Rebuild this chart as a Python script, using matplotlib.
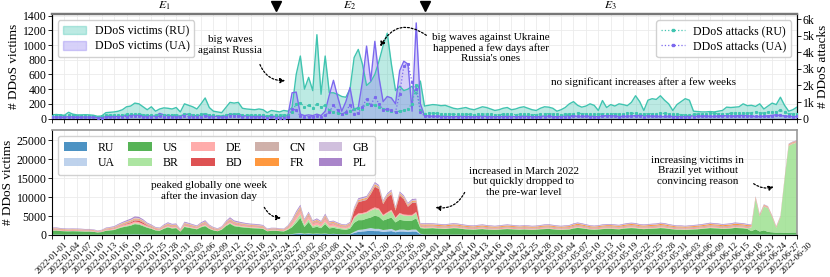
import numpy as np
import pandas as pd
import matplotlib
matplotlib.use("Agg")
import matplotlib.pyplot as plt
import matplotlib.dates as mdates
from matplotlib.ticker import FuncFormatter
from matplotlib.patches import Patch
from matplotlib.lines import Line2D

plt.rcParams['font.family'] = ['Liberation Serif', 'DejaVu Serif']
plt.rcParams['mathtext.fontset'] = 'stix'

days = pd.date_range('2022-01-01', '2022-06-30', freq='D')
era_marks = ['2022-02-24', '2022-04-01']
era_labels = ['$E_1$', '$E_2$', '$E_3$']
era_label_dates = ['2022-01-28', '2022-03-14', '2022-05-16']

# ---------------- top panel data ----------------
ru_victims = ([50,55,50,45,85,60,50,50,52,50, 45,30,35,80,85,90,100,120,160,170,
               210,200,160,120,160,100,130,145,140,130, 150,90,200,180,160,130,200,280,150,100,
               90,80,150,220,210,220,140,130,125,120, 130,120,80,110]
              + [100,90,110,100,150,600,850,400,560,380, 1140,330,850,350,350,330,300,290,400,830,
                 940,740,450,500,600,780,990,1160,740,380, 440,380,400,440,330,510]
              + [170,180,190,185,175,180,160,140,130,140, 150,130,120,140,160,150,130,110,120,140,
                 150,120,130,150,160,140,120,110,140,160, 155,140,100,120,150,200,230,180,155,170,
                 200,180,110,245,150,190,170,200,190,175, 220,310,230,110,250,270,260,310,250,200,
                 110,190,230,270,250,100,95,90,90,95, 90,100,110,155,150,155,160,200,175,180,
                 165,200,130,170,210,190,290,180,100,120,155])
ua_victims = ([20,22,20,18,25,22,20,20,22,20, 18,15,15,25,28,30,30,35,40,45,
               50,45,40,35,40,30,70,50,40,35, 40,30,60,55,45,35,45,60,40,30,
               30,25,40,60,55,60,40,35,35,30, 35,30,25,30]
              + [30,25,30,40,350,360,60,40,50,40, 60,40,100,320,520,300,100,230,420,120,
                 150,500,985,510,1050,560,230,300,280,200, 650,780,740,100,1300,200]
              + [40,35,30,30,35,30,28,25,30,32, 30,28,25,30,35,30,28,25,28,30,
                 32,28,25,30,35,30,28,25,30,35, 32,30,25,30,35,40,35,30,28,30,
                 35,30,25,35,40,38,35,30,28,30, 35,40,45,40,35,30,28,25,25,28,
                 30,30,28,35,38,35,30,32,35,30, 28,35,40,38,35,30,40,45,38,30,
                 25,28,30,35,45,50,40,35,30,30, 28])
ru_attacks = ([180,200,190,170,220,200,180,170,180,175, 160,120,130,190,200,210,220,230,260,270,
               280,270,240,210,230,190,220,240,230,220, 240,170,280,260,240,210,260,300,230,190,
               180,170,230,280,270,280,220,210,200,200, 210,200,160,190]
              + [220,200,230,220,400,900,950,700,800,650, 900,700,800,500,400,350,300,350,450,600,
                 650,600,900,850,800,700,600,500,450,400, 450,500,600,900,2000,500]
              + [300,320,330,310,300,290,280,260,250,260, 270,250,240,260,280,270,250,230,240,260,
                 270,250,240,260,270,250,230,240,260,280, 290,270,250,240,260,270,300,320,300,280,
                 260,250,260,290,300,300,290,270,290,320, 330,310,290,280,290,300,300,320,310,290,
                 270,250,240,230,240,250,270,280,300,320, 310,300,290,300,320,350,340,330,320,360,
                 380,350,330,380,400,420,500,380,300,280,300])
ua_attacks = ([70,80,75,70,90,80,75,70,75,70, 65,50,55,80,85,90,95,100,120,130,
               140,130,110,90,100,80,150,110,95,90, 100,70,130,120,100,85,110,140,100,80,
               75,70,100,140,130,140,100,90,90,85, 90,80,60,80]
              + [60,50,60,80,600,500,150,100,120,100, 150,100,200,400,800,500,250,400,850,300,
                 350,700,1200,800,1300,900,500,600,500,400, 1500,3200,3300,2200,1800,400]
              + [150,140,130,130,120,120,120,110,110,120, 120,110,100,110,120,120,110,100,110,120,
                 120,110,100,110,120,110,100,100,110,120, 130,120,110,100,110,120,140,150,140,130,
                 120,110,120,130,140,140,130,120,130,150, 160,150,130,120,130,140,140,150,140,130,
                 120,110,100,100,110,120,130,140,150,160, 150,140,130,140,150,160,150,140,130,150,
                 170,160,150,160,180,200,220,160,130,120,130])

# ---------------- bottom panel data (per country) ----------------
countries = ['RU', 'UA', 'US', 'BR', 'DE', 'BD', 'CN', 'FR', 'GB', 'PL']
RU = ([50,55,50,45,60,50,45,45,50,45, 40,30,35,50,55,60,60,70,80,90,
       100,90,80,70,70,60,60,70,70,60, 60,40,70,60,60,55,70,80,60,50,
       45,50,70,90,80,80,70,60,60,55, 55,50,40,50]
      + [60,60,70,100,150,250,350,200,300,200, 250,200,250,150,200,150,120,100,150,500,
         800,900,1000,1100,1000,1000,800,900,1000,700, 900,900,800,900,900,200]
      + [60,55,50,50,55,50,50,45,50,55, 50,45,45,50,55,50,45,45,50,50,
         55,50,45,45,50,50,45,45,50,55, 55,50,45,45,50,50,60,65,60,55,
         50,45,50,55,60,60,55,50,55,60, 65,60,55,50,55,55,60,65,60,55,
         50,45,45,45,50,50,55,55,60,65, 60,60,55,55,60,65,60,60,55,60,
         55,60,65,60,50,45,45,40,45,45,45])
UA = ([25,25,25,20,25,25,20,20,25,20, 20,15,15,25,25,30,30,35,40,40,
       45,40,35,30,30,25,30,35,30,30, 30,20,35,30,30,25,30,40,30,25,
       25,25,35,45,40,40,35,30,30,30, 30,25,20,25]
      + [30,30,40,50,80,120,150,100,120,80, 100,80,100,60,80,60,50,50,80,300,
         500,500,600,700,600,600,500,500,600,400, 500,500,400,500,500,100]
      + [35,30,30,30,30,30,30,25,30,30, 30,25,25,30,30,30,25,25,30,30,
         30,30,25,25,30,30,25,25,30,30, 30,30,25,25,30,30,35,35,35,30,
         30,25,30,30,35,35,30,30,30,35, 35,35,30,30,30,30,35,35,35,30,
         30,25,25,25,30,30,30,30,35,35, 35,35,30,30,35,35,35,35,30,35,
         30,35,35,35,30,25,25,25,25,25,25])
US = ([1000,1050,950,900,850,900,880,850,800,820, 750,600,700,1000,1100,1200,1600,1900,2100,2300,
       2700,2600,2200,1800,1500,1100,1000,1500,1900,1600, 1700,800,2000,1800,1600,1400,1900,2200,1500,1100,
       900,1300,2200,2800,2200,2000,1900,1800,1700,1650, 1600,1500,900,1000]
      + [1000,900,800,1200,1800,2800,4000,1800,3000,1600, 1800,1500,2500,1500,1600,1400,1300,1200,1400,2400,
         2600,2500,2700,2800,3500,3200,2500,2800,3000,2200, 2600,2400,2500,2400,3000,1500]
      + [1600,1650,1700,1600,1550,1500,1600,1700,1650,1500, 1400,1350,1300,1400,1450,1350,1300,1250,1300,1400,
         1450,1400,1350,1300,1350,1300,1250,1300,1400,1450, 1500,1400,1300,1250,1300,1350,1600,1750,1650,1500,
         1350,1300,1350,1450,1500,1500,1450,1400,1550,1650, 1700,1650,1500,1450,1500,1550,1600,1700,1650,1500,
         1400,1300,1300,1250,1300,1350,1400,1500,1600,1700, 1650,1600,1500,1550,1600,1750,1700,1650,1500,900,
         1400,800,1100,700,600,500,550,500,500,550,550])
BR = ([100,100,90,90,90,90,90,85,80,80, 80,60,70,100,110,120,150,180,200,220,
       250,240,200,170,150,110,100,150,180,160, 160,80,190,170,150,130,180,220,150,110,
       90,120,200,250,210,200,180,170,160,160, 150,140,90,100]
      + [100,100,100,200,400,800,1000,500,700,400, 500,400,600,400,400,350,300,300,400,1200,
         1500,1600,1500,1800,1800,1800,1200,1500,1700,1000, 1500,1300,1300,1200,1400,300]
      + [150,140,130,130,125,120,125,130,125,120, 115,110,110,115,120,115,110,105,110,115,
         120,115,110,105,110,110,105,105,110,120, 120,115,110,105,110,115,130,140,130,120,
         110,105,110,120,125,125,120,115,125,135, 140,135,125,120,125,130,130,140,135,125,
         115,110,110,105,110,115,120,125,130,140, 135,130,125,130,135,140,150,160,150,1000,
         8000,4000,6300,6300,4000,1300,4000,14000,23000,23500,23800])
DE = ([200,200,190,180,180,180,170,170,160,160, 150,120,140,200,220,250,300,350,400,420,
       450,420,380,300,250,200,180,250,300,280, 280,150,320,300,260,230,300,350,250,200,
       170,200,320,400,350,330,300,280,270,260, 250,240,150,170]
      + [170,160,160,300,700,900,1000,600,800,600, 700,600,900,600,600,500,400,400,500,400,
         300,300,300,400,400,350,300,300,350,300, 300,300,300,300,300,200]
      + [250,250,240,240,230,230,240,250,240,230, 220,210,210,220,230,220,210,200,210,220,
         230,220,210,200,210,210,200,200,210,230, 230,220,210,200,210,220,250,270,250,230,
         210,200,210,230,240,240,230,220,240,260, 270,260,240,230,240,250,250,270,260,240,
         220,210,210,200,210,220,230,240,250,270, 260,250,240,250,260,270,260,250,240,150,
         150,120,120,100,100,90,90,100,120,120,120])
BD = ([60,60,60,50,50,50,50,50,50,50, 50,40,40,60,60,70,80,100,150,250,
       300,400,350,150,100,80,70,90,100,90, 90,60,100,90,80,70,90,100,80,60,
       60,60,90,120,100,100,90,80,80,80, 80,70,50,60]
      + [60,60,60,80,100,120,150,100,120,100, 100,100,150,100,100,90,80,80,100,1500,
         2950,3150,3150,3950,5450,5200,2850,3950,4100,1850, 4650,4050,2150,3150,2450,100]
      + [80,70,60,60,60,60,60,60,60,60, 55,55,55,55,60,55,55,50,55,55,
         60,55,55,50,55,55,50,50,55,60, 60,55,55,50,55,55,65,70,65,60,
         55,50,55,60,65,65,60,55,60,65, 70,65,60,55,60,65,65,70,65,60,
         55,55,55,50,55,55,60,60,65,70, 65,65,60,60,65,70,65,65,60,50,
         50,40,40,40,40,30,30,40,40,40,40])
CN = ([150,150,140,140,130,130,130,130,120,120, 120,100,110,150,160,170,200,230,260,280,
       300,290,270,220,200,160,150,200,230,210, 210,130,230,220,200,180,230,260,200,160,
       140,160,230,280,250,240,220,210,200,200, 190,180,130,150]
      + [150,150,150,200,300,400,450,300,350,300, 300,250,350,250,250,250,200,200,250,300,
         300,300,300,350,350,300,300,300,350,300, 300,300,300,300,300,200]
      + [300,300,290,290,280,280,290,300,290,280, 270,260,260,270,280,270,260,250,260,270,
         280,270,260,250,260,260,250,250,260,280, 280,270,260,250,260,270,300,320,300,280,
         260,250,260,280,290,290,280,270,290,310, 320,310,290,280,290,300,300,320,310,290,
         270,260,260,250,260,270,280,290,300,320, 310,300,290,300,310,320,310,300,290,200,
         200,150,150,120,120,100,100,120,150,150,150])
FR = ([100,100,95,95,90,90,90,90,85,85, 80,70,75,100,110,120,140,160,180,190,
       200,190,180,150,130,110,100,130,150,140, 140,90,160,150,130,120,150,180,130,110,
       100,110,150,190,170,160,150,140,140,140, 130,120,90,100]
      + [100,100,100,150,200,300,300,200,250,200, 200,200,250,200,200,180,150,150,200,250,
         250,250,250,300,300,250,250,250,300,250, 250,250,250,250,250,200]
      + [270,270,260,260,250,250,260,270,260,250, 240,230,230,240,250,240,230,220,230,240,
         250,240,230,220,230,230,220,220,230,250, 250,240,230,220,230,240,270,290,270,250,
         230,220,230,250,260,260,250,240,260,280, 290,280,260,250,260,270,270,290,280,260,
         240,230,230,220,230,240,250,260,270,290, 280,270,260,270,280,290,280,270,260,180,
         170,140,140,120,120,100,100,120,140,140,140])
GB = ([110,110,105,100,100,100,95,95,90,90, 85,75,80,110,120,130,150,170,190,200,
       210,200,190,160,140,120,110,140,160,150, 150,100,170,160,140,130,160,190,140,120,
       110,120,160,200,180,170,160,150,150,150, 140,130,100,110]
      + [90,90,90,120,180,250,250,180,200,150, 180,150,220,150,150,130,120,120,150,250,
         250,250,250,300,300,250,250,250,300,250, 250,250,250,250,250,150]
      + [160,160,150,150,150,150,150,155,150,145, 140,135,135,140,145,140,135,130,135,140,
         145,140,135,130,135,135,130,130,135,145, 145,140,135,130,135,140,155,165,155,145,
         135,130,135,145,150,150,145,140,150,160, 165,160,150,145,150,155,155,165,160,150,
         140,135,135,130,135,140,145,150,155,165, 160,155,150,155,160,165,160,155,150,100,
         90,80,80,70,70,60,60,70,80,80,80])
PL = ([130,130,120,120,115,115,110,110,105,105, 100,85,90,130,140,160,190,220,260,300,
       330,300,260,200,170,140,130,180,220,200, 200,120,230,210,180,160,210,260,180,140,
       120,140,220,300,260,240,220,200,190,190, 180,170,120,130]
      + [120,110,110,150,250,350,350,250,300,200, 250,200,300,200,200,180,150,150,200,250,
         250,250,250,300,300,250,250,250,300,250, 250,250,250,250,250,150]
      + [170,170,160,160,155,155,160,165,160,155, 150,145,145,150,155,150,145,140,145,150,
         155,150,145,140,145,145,140,140,145,155, 155,150,145,140,145,150,170,180,170,155,
         145,140,145,155,160,160,155,150,160,175, 180,175,160,155,160,165,165,180,175,160,
         150,145,145,140,145,150,155,160,170,180, 175,170,160,165,170,180,175,170,160,110,
         100,90,90,80,80,70,70,80,90,100,100])

country_series = [RU, UA, US, BR, DE, BD, CN, FR, GB, PL]
for s in [ru_victims, ua_victims, ru_attacks, ua_attacks] + country_series:
    assert len(s) == len(days), len(s)

country_colors = ['#1f77b4', '#aec7e8', '#2ca02c', '#98df8a', '#ff9896',
                  '#d62728', '#c49c94', '#ff7f0e', '#c5b0d5', '#9467bd']
RU_C = '#40c4b0'
UA_C = '#7b68ee'

# ---------------- figure ----------------
fig = plt.figure(figsize=(8.3, 2.77), dpi=100)
ax1 = fig.add_axes([0.0627, 0.572, 0.8975, 0.376])
ax3 = fig.add_axes([0.0627, 0.152, 0.8975, 0.379])

grid_kw = dict(color='#ebebeb', lw=0.6, zorder=0)
tick_dates = days[::3]
T = pd.Timestamp

# top panel
ax1.fill_between(days, ru_victims, color=RU_C, alpha=0.35, lw=0, zorder=2)
ax1.plot(days, ru_victims, color=RU_C, lw=1.0, zorder=3)
ax1.fill_between(days, ua_victims, color=UA_C, alpha=0.3, lw=0, zorder=2)
ax1.plot(days, ua_victims, color=UA_C, lw=1.0, zorder=3)
ax1.set_ylim(0, 1416)
ax1.set_yticks(range(0, 1401, 200))
ax1.set_ylabel('# DDoS victims', fontsize=9.5, labelpad=2)
ax1.set_xlim(days[0], days[-1])
ax1.set_xticks(tick_dates)
ax1.tick_params(axis='x', labelbottom=False, length=3, width=0.6)
ax1.tick_params(axis='y', labelsize=8.5, length=3, width=0.6, pad=1)
ax1.grid(True, **grid_kw)
ax1.set_axisbelow(True)

ax2 = ax1.twinx()
ax2.plot(days, ru_attacks, color=RU_C, lw=0.9, ls=':', marker='s', ms=1.2, zorder=4)
ax2.plot(days, ua_attacks, color=UA_C, lw=0.9, ls=':', marker='s', ms=1.2, zorder=4)
ax2.set_ylim(0, 6300)
ax2.set_yticks(range(0, 6001, 1000))
ax2.yaxis.set_major_formatter(FuncFormatter(lambda v, p: '0' if v == 0 else f'{int(v/1000)}k'))
ax2.set_ylabel('# DDoS attacks', fontsize=9.5, labelpad=2)
ax2.tick_params(axis='y', labelsize=8.5, length=3, width=0.6, pad=1)

leg_kw = dict(fontsize=8.5, handlelength=2.0, handletextpad=0.7, borderpad=0.4,
              labelspacing=0.3, framealpha=0.9, edgecolor='#cccccc', fancybox=True)
leg1 = ax2.legend(handles=[Patch(facecolor=RU_C, alpha=0.35, edgecolor=RU_C),
                           Patch(facecolor=UA_C, alpha=0.3, edgecolor=UA_C)],
                  labels=['DDoS victims (RU)', 'DDoS victims (UA)'],
                  loc='upper left', **leg_kw)
ax2.add_artist(leg1)
ax2.legend(handles=[Line2D([], [], color=RU_C, ls=':', marker='s', ms=2, lw=0.9),
                    Line2D([], [], color=UA_C, ls=':', marker='s', ms=2, lw=0.9)],
           labels=['DDoS attacks (RU)', 'DDoS attacks (UA)'],
           loc='upper right', **leg_kw)

# era markers above top panel
for d in era_marks:
    ax1.plot([T(d)], [1.085], marker='v', color='black', ms=7,
             transform=ax1.get_xaxis_transform(), clip_on=False, zorder=10)
for lab, d in zip(era_labels, era_label_dates):
    ax1.text(T(d), 1.025, lab, transform=ax1.get_xaxis_transform(),
             ha='center', va='bottom', fontsize=8.5)

arr = dict(arrowstyle='-|>', ls=(0, (1.5, 1.5)), color='black', lw=0.9, mutation_scale=7)
ann_kw = dict(ha='center', va='center', fontsize=8, linespacing=1.2)
ax1.text(T('2022-02-13'), 1000, 'big waves\nagainst Russia', **ann_kw)
ax1.annotate('', xy=(T('2022-02-27'), 520), xytext=(T('2022-02-20'), 770),
             arrowprops=dict(**arr, connectionstyle='arc3,rad=0.4'))
ax1.text(T('2022-04-17'), 960, "big waves against Ukraine\nhappened a few days after\nRussia's ones", **ann_kw)
ax1.annotate('', xy=(T('2022-03-21'), 945), xytext=(T('2022-04-02'), 1110),
             arrowprops=dict(**arr, connectionstyle='arc3,rad=0.6'))
ax1.text(T('2022-05-24'), 493, 'no significant increases after a few weeks', **ann_kw)

# bottom panel
ax3.stackplot(days, *country_series, colors=country_colors, alpha=0.8, labels=countries, lw=0, zorder=2)
ax3.set_xlim(days[0], days[-1])
ax3.set_ylim(0, 27800)
ax3.set_yticks(range(0, 25001, 5000))
ax3.set_ylabel('# DDoS victims', fontsize=9.5, labelpad=2)
ax3.set_xticks(tick_dates)
ax3.xaxis.set_major_formatter(mdates.DateFormatter('%Y-%m-%d'))
ax3.tick_params(axis='x', labelsize=6.3, length=3, width=0.6, pad=1, rotation=45)
ax3.tick_params(axis='y', labelsize=8.5, length=3, width=0.6, pad=1)
ax3.grid(True, **grid_kw)
ax3.set_axisbelow(True)
ax3.legend(loc='upper left', ncol=5, fontsize=8.5, handlelength=2.0, handletextpad=0.9,
           columnspacing=1.1, borderpad=0.5, labelspacing=0.3, framealpha=0.9,
           edgecolor='#cccccc')

ax3.text(T('2022-02-08'), 11700, 'peaked globally one week\nafter the invasion day', **ann_kw)
ax3.annotate('', xy=(T('2022-02-26'), 4500), xytext=(T('2022-02-21'), 7950),
             arrowprops=dict(**arr, connectionstyle='arc3,rad=0.35'))
ax3.text(T('2022-04-25'), 14100, 'increased in March 2022\nbut quickly dropped to\nthe pre-war level', **ann_kw)
ax3.annotate('', xy=(T('2022-04-03'), 7400), xytext=(T('2022-04-11'), 11900),
             arrowprops=dict(**arr, connectionstyle='arc3,rad=-0.4'))
ax3.text(T('2022-06-06'), 16960, 'increasing victims in\nBrazil yet without\nconvincing reason', **ann_kw)
ax3.annotate('', xy=(T('2022-06-25'), 13000), xytext=(T('2022-06-19'), 14000),
             arrowprops=dict(**arr, connectionstyle='arc3,rad=0.3'))

for ax in (ax1, ax2, ax3):
    for sp in ax.spines.values():
        sp.set_linewidth(0.8)
ax1.spines['top'].set_color('#777777'); ax1.spines['top'].set_linewidth(1.6)
ax2.spines['top'].set_color('#777777'); ax2.spines['top'].set_linewidth(1.6)
ax3.spines['top'].set_color('#999999'); ax3.spines['right'].set_color('#999999')
ax3.spines['top'].set_linewidth(1.2); ax3.spines['right'].set_linewidth(1.2)

fig.savefig('out.png', dpi=100)
